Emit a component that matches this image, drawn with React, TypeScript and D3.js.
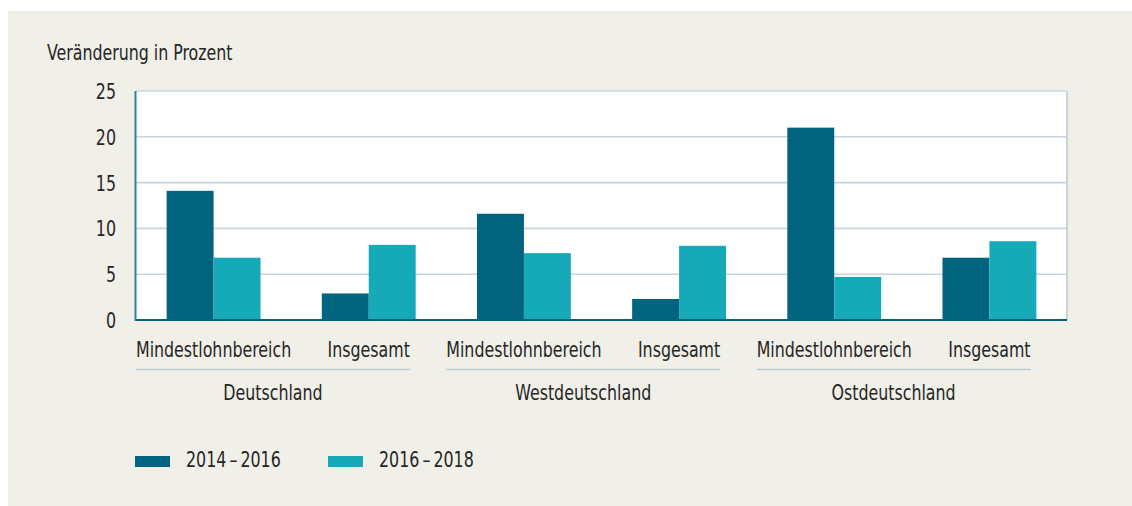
import React, { useEffect, useRef } from 'react';
import * as d3 from 'd3';

const regions = ['Deutschland', 'Westdeutschland', 'Ostdeutschland'];
const subgroups = ['Mindestlohnbereich', 'Insgesamt'];
const seriesNames = ['2014–2016', '2016–2018'];
const values2014 = [14.1, 2.9, 11.6, 2.3, 21.0, 6.8];
const values2016 = [6.8, 8.2, 7.3, 8.1, 4.7, 8.6];
const yTicks = [0, 5, 10, 15, 20, 25];

const colors = ['#02647f', '#16aab9'];
const FONT = "'DejaVu Sans Condensed', 'DejaVu Sans', sans-serif";
const FS = 22;
const SX = 0.8; // squeeze to mimic the narrow typeface

const App = () => {
  const ref = useRef<SVGSVGElement>(null);

  useEffect(() => {
    const svg = d3.select(ref.current);
    svg.selectAll('*').remove();

    const label = (g, px, py, txt, anchor = 'start') =>
      g.append('text')
        .attr('transform', `translate(${px},${py}) scale(${SX},1)`)
        .attr('text-anchor', anchor)
        .attr('font-family', FONT)
        .attr('font-size', FS)
        .attr('fill', '#262626')
        .text(txt);

    svg.append('rect')
      .attr('x', 8).attr('y', 11)
      .attr('width', 1124).attr('height', 495)
      .attr('fill', '#f0efe8');

    const left = 136, right = 1067, top = 91, bottom = 320;

    const cats = regions.flatMap(r => subgroups.map(s => `${r}|${s}`));
    const x = d3.scaleBand().domain(cats).range([left, right])
      .paddingInner(0.395).paddingOuter(0.1975);
    const xs = d3.scaleBand().domain(seriesNames).range([0, x.bandwidth()]);
    const y = d3.scaleLinear().domain([0, 25]).range([bottom, top]);

    svg.append('rect')
      .attr('x', left).attr('y', top)
      .attr('width', right - left).attr('height', bottom - top)
      .attr('fill', '#ffffff');

    // gridlines
    svg.append('g').selectAll('line')
      .data(yTicks.filter(t => t > 0))
      .enter().append('line')
      .attr('x1', left).attr('x2', right)
      .attr('y1', d => y(d)).attr('y2', d => y(d))
      .attr('stroke', d => d === 25 ? '#c9d9e0' : '#c7d4de')
      .attr('stroke-width', 1.6);

    // right border
    svg.append('line')
      .attr('x1', right).attr('x2', right)
      .attr('y1', top).attr('y2', bottom)
      .attr('stroke', '#c5d3dc').attr('stroke-width', 2);

    // bars
    const series = [values2014, values2016];
    series.forEach((vals, si) => {
      svg.append('g').selectAll('rect')
        .data(vals)
        .enter().append('rect')
        .attr('x', (d, i) => (x(cats[i]) ?? 0) + (xs(seriesNames[si]) ?? 0))
        .attr('width', xs.bandwidth())
        .attr('y', d => y(d))
        .attr('height', d => y(0) - y(d))
        .attr('fill', colors[si]);
    });

    // axis lines
    svg.append('line')
      .attr('x1', left).attr('x2', right)
      .attr('y1', bottom).attr('y2', bottom)
      .attr('stroke', '#02647f').attr('stroke-width', 2);
    svg.append('line')
      .attr('x1', left - 0.5).attr('x2', left - 0.5)
      .attr('y1', top).attr('y2', bottom + 1)
      .attr('stroke', '#2a8596').attr('stroke-width', 2);

    // y tick labels
    const yAxis = svg.append('g');
    yTicks.forEach(t => label(yAxis, 116, y(t) + 8, String(t), 'end'));

    label(svg, 47, 60, 'Veränderung in Prozent');

    // category labels, with a rule and the region name below each pair
    const catG = svg.append('g');
    const nodes = cats.map(c =>
      label(catG, (x(c) ?? 0) + x.bandwidth() / 2, 357, c.split('|')[1], 'middle').node() as SVGTextElement);

    regions.forEach((r, ri) => {
      const a = nodes[ri * 2].getBBox();
      const b = nodes[ri * 2 + 1].getBBox();
      const ca = (x(cats[ri * 2]) ?? 0) + x.bandwidth() / 2;
      const cb = (x(cats[ri * 2 + 1]) ?? 0) + x.bandwidth() / 2;
      const x1 = ca - (a.width * SX) / 2;
      const x2 = cb + (b.width * SX) / 2;
      svg.append('line')
        .attr('x1', x1).attr('x2', x2)
        .attr('y1', 369.5).attr('y2', 369.5)
        .attr('stroke', '#b9cdd6').attr('stroke-width', 1.6);
      label(svg, (x1 + x2) / 2, 400, r, 'middle');
    });

    // legend
    const legendX = [135, 328];
    seriesNames.forEach((s, si) => {
      svg.append('rect')
        .attr('x', legendX[si]).attr('y', 456)
        .attr('width', 35).attr('height', 11)
        .attr('fill', colors[si]);
      label(svg, legendX[si] + 51, 467, s.replace('–', '\u2009–\u2009'));
    });
  }, []);

  return (
    <svg
      ref={ref}
      width={1132}
      height={506}
      style={{ position: 'absolute', left: 0, top: 0, display: 'block' }}
    ></svg>
  );
};

export default App;
